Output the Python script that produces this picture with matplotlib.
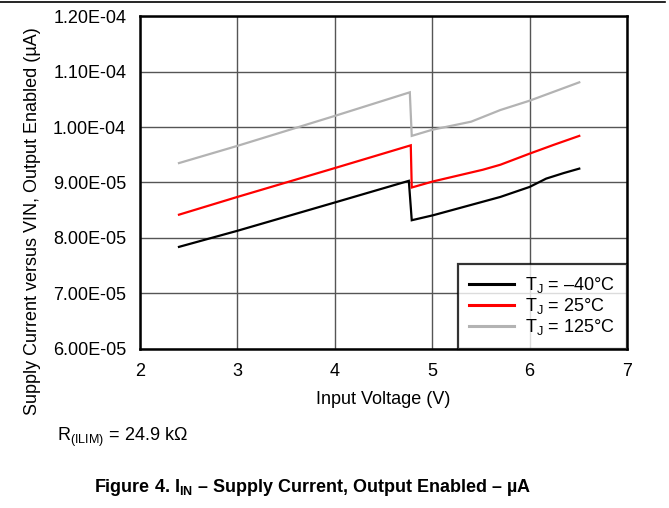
import matplotlib
matplotlib.use("Agg")
import matplotlib.pyplot as plt
from matplotlib.lines import Line2D

plt.rcParams['font.family'] = ['Liberation Sans', 'DejaVu Sans']
plt.rcParams['mathtext.fontset'] = 'custom'
plt.rcParams['mathtext.rm'] = 'Liberation Sans'
plt.rcParams['mathtext.it'] = 'Liberation Sans:italic'
plt.rcParams['mathtext.bf'] = 'Liberation Sans:bold'

# Data (Input voltage in V, supply current in A)
vin_m40 = [2.4, 3.0, 4.0, 4.76, 4.79, 5.01, 5.70, 6.0, 6.17, 6.35, 6.51]
i_m40 = [7.84e-5, 8.13e-5, 8.64e-5, 9.03e-5, 8.32e-5, 8.41e-5, 8.74e-5, 8.92e-5, 9.07e-5, 9.17e-5, 9.25e-5]

vin_25 = [2.4, 3.0, 4.0, 4.78, 4.79, 5.01, 5.52, 5.70, 6.0, 6.25, 6.51]
i_25 = [8.42e-5, 8.74e-5, 9.26e-5, 9.67e-5, 8.91e-5, 9.02e-5, 9.23e-5, 9.32e-5, 9.52e-5, 9.68e-5, 9.84e-5]

vin_125 = [2.4, 3.0, 4.0, 4.77, 4.79, 5.0, 5.40, 5.70, 6.0, 6.51]
i_125 = [9.35e-5, 9.66e-5, 1.020e-4, 1.0625e-4, 9.84e-5, 9.95e-5, 1.0096e-4, 1.0306e-4, 1.0474e-4, 1.0805e-4]

series_labels = ['T$_\\mathregular{J}$ = \u201340\u00b0C', 'T$_\\mathregular{J}$ = 25\u00b0C', 'T$_\\mathregular{J}$ = 125\u00b0C']
series_colors = ['#000000', '#ff0000', '#b3b3b3']

x_ticks = [2, 3, 4, 5, 6, 7]
y_ticks = [6.0e-5, 7.0e-5, 8.0e-5, 9.0e-5, 1.0e-4, 1.1e-4, 1.2e-4]
y_tick_labels = ['6.00E-05', '7.00E-05', '8.00E-05', '9.00E-05', '1.00E-04', '1.10E-04', '1.20E-04']

fig = plt.figure(figsize=(6.69, 5.08), dpi=100)
ax = fig.add_axes([0.2093, 0.313, 0.7279, 0.6555])

for xs, ys, lab, col in zip([vin_m40, vin_25, vin_125], [i_m40, i_25, i_125], series_labels, series_colors):
    ax.plot(xs, ys, color=col, lw=1.6, label=lab, solid_joinstyle='miter')

ax.set_xlim(2, 7)
ax.set_ylim(6.0e-5, 1.2e-4)
ax.set_xticks(x_ticks)
ax.set_xticklabels([str(v) for v in x_ticks])
ax.set_yticks(y_ticks)
ax.set_yticklabels(y_tick_labels)
ax.tick_params(axis='both', length=0, labelsize=13, pad=10)
ax.grid(True, color='#555555', lw=1.0)
ax.set_axisbelow(True)
for s in ax.spines.values():
    s.set_linewidth(1.8)
    s.set_color('black')

ax.set_xlabel('Input Voltage (V)', fontsize=13, labelpad=8)
fig.text(33/669, 1 - 221/508, 'Supply Current versus VIN, Output Enabled (\u00b5A)',
         fontsize=13, rotation=90, ha='center', va='center')

leg = ax.legend(loc='lower right', fontsize=13, frameon=True, fancybox=False,
                borderaxespad=0, handlelength=2.5, labelspacing=0.05,
                borderpad=0.65, handletextpad=0.6)
leg.get_frame().set_edgecolor('black')
leg.get_frame().set_linewidth(1.6)
for h in leg.get_lines():
    h.set_linewidth(2.2)

fig.add_artist(Line2D([0.0, 0.994], [0.997, 0.997], color='black', lw=1.2))
fig.text(57/669, 1 - 437/508, 'R$_\\mathregular{(ILIM)}$ = 24.9 k\u03a9', fontsize=13, va='center', ha='left')
fig.text(313/669, 1 - 487/508, 'Figure 4. I$_\\mathbf{IN}$ \u2013 Supply Current, Output Enabled \u2013 \u00b5A',
         fontsize=13, fontweight='bold', va='center', ha='center')

fig.savefig('out.png', dpi=100)
